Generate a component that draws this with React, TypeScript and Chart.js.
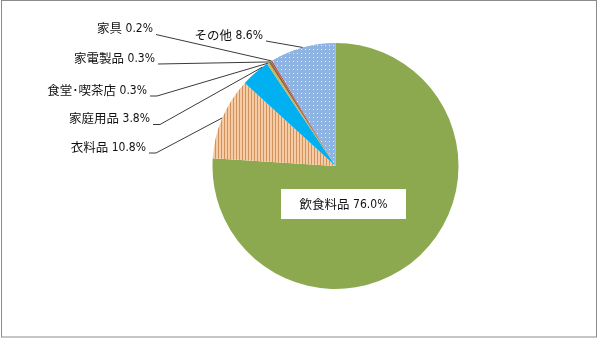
import React, { useEffect, useRef } from "react";
import { Chart, registerables } from "chart.js";

Chart.register(...registerables);

const categories = ["飲食料品", "衣料品", "家庭用品", "食堂･喫茶店", "家電製品", "家具", "その他"];
const values = [76.0, 10.8, 3.8, 0.3, 0.3, 0.2, 8.6];
const baseColors = ["#8CA94F", "#F6CCA6", "#00B0F0", "#D2B45E", "#8E6A3C", "#C0504D", "#8DB4E2"];

// label layout: [text right x, text center y, landing length, leader fraction in slice]
const labelLayout: Record<number, [number, number, number, number]> = {
  5: [153, 28.5, 0, 0.5],
  4: [155, 58, 0, 0.5],
  3: [147, 90, 7, 0.5],
  2: [150, 118.5, 7, 0.8],
  1: [146, 147, 7, 0.5],
  6: [263, 35, 0, 0.5],
};
const mainBox = { x: 281, y: 189, w: 125, h: 30 };

const CJK = '"Noto Sans CJK JP", sans-serif';
const NUM = '"Liberation Sans Narrow", "DejaVu Sans Condensed", "Liberation Sans", sans-serif';

function makeStripe(): CanvasPattern | string {
  const c = document.createElement("canvas");
  c.width = 3;
  c.height = 1;
  const g = c.getContext("2d")!;
  g.fillStyle = "#F6CCA6";
  g.fillRect(0, 0, 3, 1);
  g.fillStyle = "#D2925C";
  g.fillRect(2, 0, 1, 1);
  return g.createPattern(c, "repeat") || "#F6CCA6";
}

function makeDots(): CanvasPattern | string {
  const c = document.createElement("canvas");
  c.width = 4;
  c.height = 4;
  const g = c.getContext("2d")!;
  g.fillStyle = "#8DB4E2";
  g.fillRect(0, 0, 4, 4);
  g.fillStyle = "#E4EDF9";
  g.fillRect(1, 1, 1, 1);
  return g.createPattern(c, "repeat") || "#8DB4E2";
}

function drawLabel(ctx: CanvasRenderingContext2D, name: string, val: string, right: number, cy: number) {
  ctx.textBaseline = "middle";
  ctx.textAlign = "right";
  ctx.fillStyle = "#111111";
  ctx.font = `12px ${NUM}`;
  const vw = ctx.measureText(val).width;
  ctx.fillText(val, right, cy + 0.5);
  ctx.font = `12.5px ${CJK}`;
  ctx.fillText(name, right - vw - 3.5, cy);
}

const labelPlugin = {
  id: "labelPlugin",
  afterDraw(chart: any) {
    const ctx: CanvasRenderingContext2D = chart.ctx;
    const meta = chart.getDatasetMeta(0);
    ctx.save();
    Object.keys(labelLayout).forEach((k) => {
      const i = Number(k);
      const [right, cy, landing, frac] = labelLayout[i];
      const arc = meta.data[i] as any;
      const a = arc.startAngle + (arc.endAngle - arc.startAngle) * frac;
      const px = arc.x + arc.outerRadius * Math.cos(a);
      const py = arc.y + arc.outerRadius * Math.sin(a);
      const sx = right + 3;
      const sy = cy + 6;
      ctx.strokeStyle = "#3a3a3a";
      ctx.lineWidth = 1;
      ctx.beginPath();
      ctx.moveTo(sx, sy);
      if (landing > 0) ctx.lineTo(sx + landing, sy);
      ctx.lineTo(px, py);
      ctx.stroke();
      drawLabel(ctx, categories[i], values[i].toFixed(1) + "%", right, cy);
    });
    ctx.fillStyle = "#ffffff";
    ctx.fillRect(mainBox.x, mainBox.y, mainBox.w, mainBox.h);
    ctx.font = `12px ${NUM}`;
    const val = values[0].toFixed(1) + "%";
    const vw = ctx.measureText(val).width;
    ctx.font = `12.5px ${CJK}`;
    const nw = ctx.measureText(categories[0]).width;
    const total = nw + 3.5 + vw;
    const left = mainBox.x + mainBox.w / 2 - total / 2;
    drawLabel(ctx, categories[0], val, left + total, mainBox.y + mainBox.h / 2);
    ctx.strokeStyle = "#8c8c8c";
    ctx.lineWidth = 1;
    ctx.strokeRect(1.5, 0.5, 595, 336.5);
    ctx.restore();
  },
};

export default function App() {
  const ref = useRef<HTMLCanvasElement>(null);
  useEffect(() => {
    document.body.style.margin = "0";
    const canvas = ref.current!;
    const colors: any[] = baseColors.slice();
    colors[1] = makeStripe();
    colors[6] = makeDots();
    const chart = new Chart(canvas, {
      type: "pie",
      data: {
        labels: categories,
        datasets: [
          {
            data: values,
            backgroundColor: colors,
            borderWidth: 0,
          },
        ],
      },
      options: {
        animation: false,
        responsive: false,
        events: [],
        layout: { padding: { left: 212.5, right: 141.5, top: 43, bottom: 49 } },
        plugins: { legend: { display: false }, tooltip: { enabled: false } },
      },
      plugins: [labelPlugin],
    });
    return () => chart.destroy();
  }, []);
  return (
    <div style={{ width: 600, height: 338, background: "#fff" }}>
      <canvas ref={ref} width={600} height={338} style={{ display: "block" }} />
    </div>
  );
}
